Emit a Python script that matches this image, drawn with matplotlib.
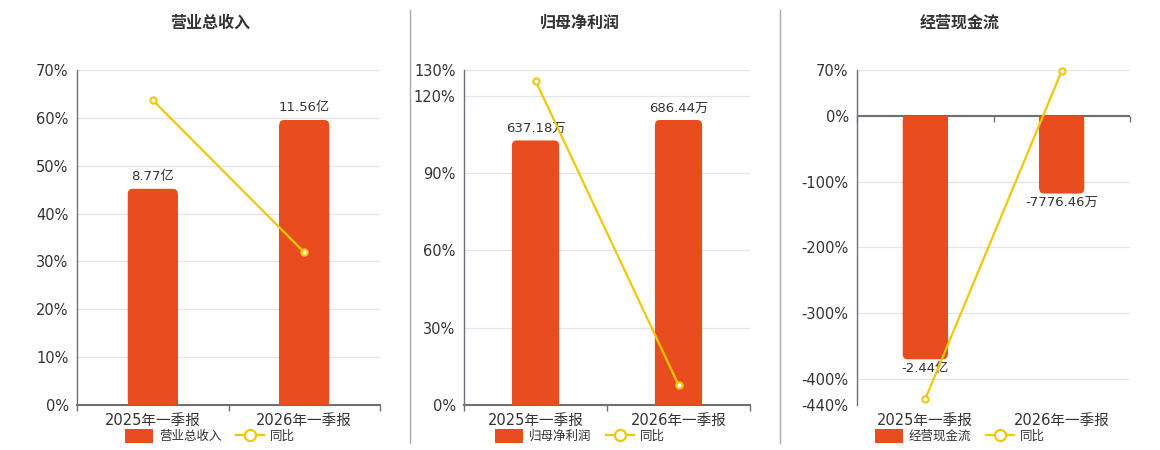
import matplotlib
matplotlib.use("Agg")
import matplotlib.pyplot as plt
from matplotlib.patches import FancyBboxPatch, Rectangle, Patch
from matplotlib.lines import Line2D

plt.rcParams['font.family'] = ['DejaVu Sans', 'Noto Sans CJK SC']

categories = ['2025年一季报', '2026年一季报']

rev_name = '营业总收入'
rev_values = [8.77, 11.56]          # 亿
rev_labels = ['8.77亿', '11.56亿']
rev_yoy = [63.7, 31.9]
rev_yticks = [0, 10, 20, 30, 40, 50, 60, 70]

np_name = '归母净利润'
np_values = [637.18, 686.44]        # 万
np_labels = ['637.18万', '686.44万']
np_yoy = [125.9, 7.8]
np_yticks = [0, 30, 60, 90, 120, 130]

cf_name = '经营现金流'
cf_values = [-24400.0, -7776.46]    # 万
cf_labels = ['-2.44亿', '-7776.46万']
cf_yoy = [-431.0, 68.5]
cf_yticks = [-440, -400, -300, -200, -100, 0, 70]

BAR = '#E94C1D'
LINE = '#F2C70A'
GRID = '#E0E6F1'
AX = '#6E7079'
TXT = '#333333'

W, H = 1160, 450
fig = plt.figure(figsize=(W / 100, H / 100), dpi=100)

panels = [
    dict(name=rev_name, vals=rev_values, labels=rev_labels, yoy=rev_yoy, yticks=rev_yticks,
         left=77, right=380, center=210, bar_lim=(0, 11.56 * 70 / 59.55)),
    dict(name=np_name, vals=np_values, labels=np_labels, yoy=np_yoy, yticks=np_yticks,
         left=464, right=750, center=580, bar_lim=(0, 686.44 * 130 / 110.6)),
    dict(name=cf_name, vals=cf_values, labels=cf_labels, yoy=cf_yoy, yticks=cf_yticks,
         left=857, right=1130, center=960, bar_lim=(-440 * 24400 / 370.4, 70 * 24400 / 370.4)),
]

top_px, bot_px = 70, 405
bar_w = 0.33
r_px = 5

for p in panels:
    wpx = p['right'] - p['left']
    hpx = bot_px - top_px
    rect = [p['left'] / W, (H - bot_px) / H, wpx / W, hpx / H]
    ax = fig.add_axes(rect)
    ymin, ymax = min(p['yticks']), max(p['yticks'])
    ax.set_xlim(-0.5, 1.5)
    ax.set_ylim(ymin, ymax)
    ax.set_yticks(p['yticks'])
    ax.set_yticklabels([f'{t}%' for t in p['yticks']])
    ax.tick_params(axis='y', length=0, labelsize=10.5, labelcolor=TXT, pad=6)
    ax.grid(axis='y', color=GRID, linewidth=0.9)
    ax.set_axisbelow(True)
    for s in ['top', 'right']:
        ax.spines[s].set_visible(False)
    ax.spines['left'].set_color(AX)
    ax.spines['left'].set_linewidth(1.0)

    ax.set_xticks([0, 1])
    ax.set_xticklabels(categories)
    ax.tick_params(axis='x', which='major', length=0, labelsize=10.5, labelcolor=TXT, pad=6)
    if ymin < 0:
        ax.spines['bottom'].set_visible(False)
        ax.axhline(0, color=AX, linewidth=1.5, zorder=5)
        frac0 = (0 - ymin) / (ymax - ymin)
        sec = ax.secondary_xaxis(frac0)
        sec.set_xticks([-0.5, 0.5, 1.5])
        sec.set_xticklabels([])
        sec.tick_params(length=4, color=AX, width=1, direction='in')
        for s in sec.spines.values():
            s.set_visible(False)
    else:
        ax.spines['bottom'].set_color(AX)
        ax.spines['bottom'].set_linewidth(1.5)
        ax.set_xticks([-0.5, 0.5, 1.5], minor=True)
        ax.tick_params(axis='x', which='minor', length=4, color=AX, width=1)

    axb = ax.twinx()
    axb.set_ylim(*p['bar_lim'])
    axb.axis('off')
    bars = axb.bar(range(len(categories)), p['vals'], width=bar_w, color=BAR)
    bl0, bl1 = p['bar_lim']
    ydpp = (bl1 - bl0) / hpx
    xdpp = 2.0 / wpx
    rx = r_px * xdpp
    ry = r_px * ydpp
    for b in bars:
        b.set_visible(False)
        x0 = b.get_x()
        w = b.get_width()
        y0 = b.get_y()
        h = b.get_height()
        yb = min(y0, y0 + h)
        hh = abs(h)
        rp = FancyBboxPatch((x0, yb), w, hh,
                            boxstyle=f'round,pad=0,rounding_size={rx}',
                            mutation_aspect=ydpp / xdpp,
                            facecolor=BAR, edgecolor='none')
        axb.add_patch(rp)
        if h >= 0:
            sq = Rectangle((x0, 0), w, hh - ry, facecolor=BAR, edgecolor='none')
        else:
            sq = Rectangle((x0, -(hh - ry)), w, hh - ry, facecolor=BAR, edgecolor='none')
        axb.add_patch(sq)
    for i, (v, lab) in enumerate(zip(p['vals'], p['labels'])):
        if v >= 0:
            axb.annotate(lab, (i, v), xytext=(0, 4), textcoords='offset points',
                         ha='center', va='bottom', fontsize=9.5, color=TXT)
        else:
            axb.annotate(lab, (i, v), xytext=(0, -2), textcoords='offset points',
                         ha='center', va='top', fontsize=9.5, color=TXT)

    axl = ax.twinx()
    axl.set_ylim(ymin, ymax)
    axl.axis('off')
    axl.plot(range(len(categories)), p['yoy'], color=LINE, linewidth=1.6,
             marker='o', markersize=4.5, markerfacecolor='white',
             markeredgecolor=LINE, markeredgewidth=1.5, clip_on=False, zorder=6)

    fig.text(p['center'] / W, 1 - 23 / H, p['name'], ha='center', va='center',
             fontsize=11.5, fontweight='bold', color=TXT)

    handles = [Patch(facecolor=BAR, edgecolor='none'),
               Line2D([], [], color=LINE, linewidth=1.6, marker='o', markersize=8,
                      markerfacecolor='white', markeredgecolor=LINE, markeredgewidth=1.6)]
    fig.legend(handles, [p['name'], '同比'], loc='center',
               bbox_to_anchor=(p['center'] / W, 1 - 436 / H), ncol=2, frameon=False,
               fontsize=9, labelcolor=TXT, handlelength=2.2, handleheight=1.3,
               columnspacing=1.2, handletextpad=0.5)

for xpx in [410, 780]:
    fig.add_artist(Line2D([xpx / W, xpx / W], [1 - 10 / H, 1 - 443 / H],
                          color='#AAAAAA', linewidth=1.0))

fig.savefig('out.png', dpi=100, facecolor='white')
